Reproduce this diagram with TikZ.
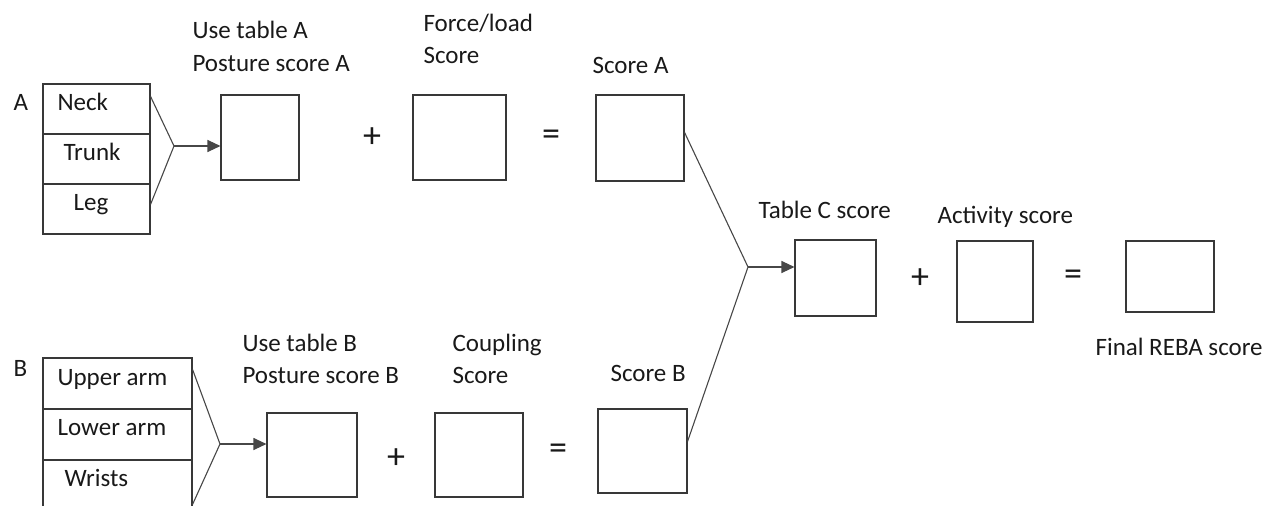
\documentclass[tikz,border=0pt]{standalone}
\usepackage{fontspec}
\setmainfont{Carlito}
\usetikzlibrary{arrows.meta,calc}
\begin{document}
\begin{tikzpicture}[x=1pt,y=-1pt,
  line width=1.1pt,
  scorebox/.style={draw=black!78, rectangle, inner sep=0pt},
  cell/.style={draw=black!78, rectangle, inner sep=0pt, minimum width=#1},
  txt/.style={inner sep=0pt, anchor=base west, text=black!90, font=\fontsize{25}{28}\selectfont},
  sym/.style={inner sep=0pt, text=black!90, font=\fontsize{36}{38}\selectfont},
  link/.style={draw=black!72, line width=1.1pt},
  arr/.style={link, -{Triangle[length=13pt,width=12pt]}}]
\useasboundingbox (0,0) rectangle (1278,506);
\clip (0,0) rectangle (1278,506);
% ---- stack A
\node[cell=107pt, minimum height=50pt] (neck)  at (96.5,109) {};
\node[cell=107pt, minimum height=50pt] (trunk) at (96.5,159) {};
\node[cell=107pt, minimum height=50pt] (leg)   at (96.5,209) {};
\node[txt] (tneck)  at (57,110) {Neck};
\node[txt] (ttrunk) at (63,160) {Trunk};
\node[txt] (tleg)   at (73,210) {Leg};
\node[txt] (labA) at (13,110) {A};
% ---- stack B
\node[cell=149pt, minimum height=51pt] (upper) at (117.5,383.5) {};
\node[cell=149pt, minimum height=51pt] (lower) at (117.5,434.5) {};
\node[cell=149pt, minimum height=51pt] (wrists) at (117.5,485.5) {};
\node[txt] (tupper)  at (57,385) {Upper arm};
\node[txt] (tlower)  at (57,435) {Lower arm};
\node[txt] (twrists) at (64,486) {Wrists};
\node[txt] (labB) at (13,376) {B};
% ---- row A boxes
\node[scorebox, minimum width=78pt, minimum height=85pt] (postA) at (260,137.5) {};
\node[scorebox, minimum width=93pt, minimum height=85pt] (force) at (459.5,137.5) {};
\node[scorebox, minimum width=88pt, minimum height=86pt] (scoreA) at (640,138) {};
\node[sym] (plusA) at (372,138) {+};
\node[sym] (eqA) at (551,138) {=};
\node[txt] (tusea) at (192,38) {Use table A};
\node[txt] (tposa) at (192,71) {Posture score A};
\node[txt] (tforce) at (423,31) {Force/load};
\node[txt] (tforce2) at (423,63) {Score};
\node[txt] (tscorea) at (592,73) {Score A};
% ---- row B boxes
\node[scorebox, minimum width=90pt, minimum height=84pt] (postB) at (312,455) {};
\node[scorebox, minimum width=88pt, minimum height=84pt] (coup) at (479,455) {};
\node[scorebox, minimum width=89pt, minimum height=84pt] (scoreB) at (642.5,451) {};
\node[sym] (plusB) at (396,459) {+};
\node[sym] (eqB) at (558,452) {=};
\node[txt] (tuseb) at (242,351) {Use table B};
\node[txt] (tposb) at (242,383) {Posture score B};
\node[txt] (tcoup) at (452,351) {Coupling};
\node[txt] (tcoup2) at (452,383) {Score};
\node[txt] (tscoreb) at (610,381) {Score B};
% ---- row C boxes
\node[scorebox, minimum width=81pt, minimum height=76pt] (tabC) at (835.5,278) {};
\node[scorebox, minimum width=76pt, minimum height=81pt] (act) at (995,281.5) {};
\node[scorebox, minimum width=88pt, minimum height=71pt] (final) at (1170,276.5) {};
\node[sym] (plusC) at (920,279) {+};
\node[sym] (eqC) at (1073,278) {=};
\node[txt] (ttabc) at (758,218) {Table C score};
\node[txt] (tact) at (937,223) {Activity score};
\node[txt] (tfinal) at (1095,355) {Final REBA score};
% ---- connectors
\coordinate (vA) at (174,146);
\coordinate (vB) at (220,444);
\coordinate (vC) at (748,267);
\draw[link] ([yshift=-13pt]neck.north east) -- (vA) -- ([yshift=-21pt]leg.north east);
\draw[arr] (vA) -- (vA -| postA.west);
\draw[link] ([yshift=-12pt]upper.north east) -- (vB) -- ([yshift=-45pt]wrists.north east);
\draw[arr] (vB) -- (vB -| postB.west);
\draw[link] ([yshift=-38pt]scoreA.north east) -- (vC) -- ([yshift=-33pt]scoreB.north east);
\draw[arr] (vC) -- (vC -| tabC.west);
\end{tikzpicture}
\end{document}
